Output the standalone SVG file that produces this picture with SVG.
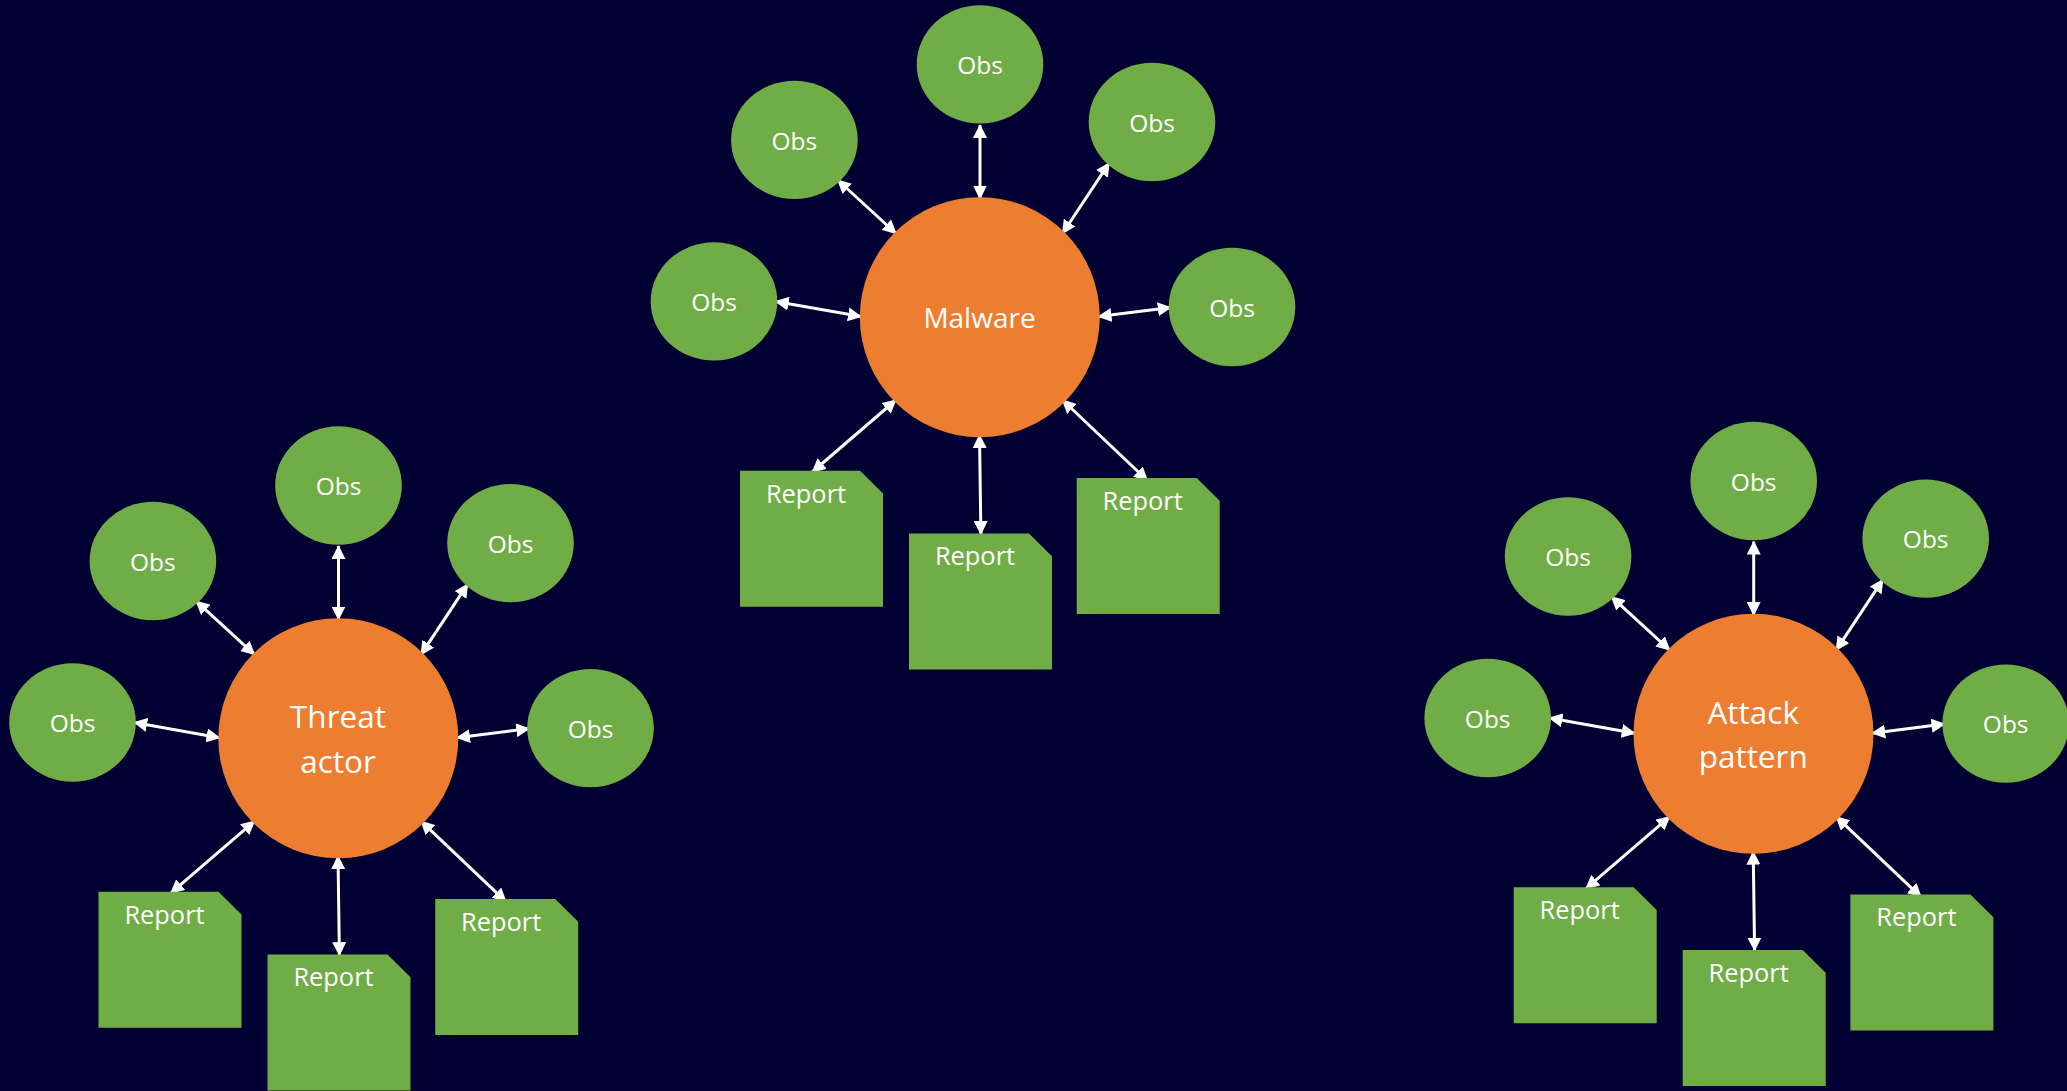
<svg xmlns="http://www.w3.org/2000/svg" width="2067" height="1091" viewBox="0 0 2067 1091">
  <defs>
    <style>
      .bg { fill: #000032; }
      .hub { fill: #ED7D31; }
      .obs { fill: #70AD47; }
      .doc { fill: #70AD47; }
      .lbl { fill: #FFFFFF; font-family: "Open Sans", "Liberation Sans", sans-serif; text-anchor: middle; }
      .obs-t { font-size: 24.5px; }
      .doc-t { font-size: 25.4px; }
      .hub-t { font-size: 28px; }
      .hub-t2 { font-size: 31.5px; }
      .link { stroke: #FFFFFF; stroke-width: 3; fill: none; marker-start: url(#tip); marker-end: url(#tip); }
    </style>
    <marker id="tip" viewBox="0 0 14 14" refX="13" refY="7" markerWidth="14" markerHeight="14" markerUnits="userSpaceOnUse" orient="auto-start-reverse">
      <path d="M0,0 L14,7 L0,14 z" fill="#FFFFFF"/>
    </marker>
  </defs>

  <rect class="bg" x="0" y="0" width="2067" height="1091"/>

  <!-- connectors: one star of eight double-headed links per hub -->
  <g id="connectors">
    <g id="links-malware">
      <line class="link" x1="980" y1="125" x2="980" y2="198.5"/>
      <line class="link" x1="837.7" y1="180" x2="896" y2="233.5"/>
      <line class="link" x1="1109.2" y1="163" x2="1062.5" y2="233.5"/>
      <line class="link" x1="775.7" y1="301.4" x2="861" y2="316.6"/>
      <line class="link" x1="1098.5" y1="316.6" x2="1170.8" y2="307.5"/>
      <line class="link" x1="896" y1="400" x2="812.3" y2="472"/>
      <line class="link" x1="979.5" y1="435" x2="980.9" y2="534"/>
      <line class="link" x1="1062.5" y1="400" x2="1147.4" y2="480.5"/>
    </g>
    <g id="links-threat" transform="translate(-641.5,421.1)">
      <line class="link" x1="980" y1="125" x2="980" y2="198.5"/>
      <line class="link" x1="837.7" y1="180" x2="896" y2="233.5"/>
      <line class="link" x1="1109.2" y1="163" x2="1062.5" y2="233.5"/>
      <line class="link" x1="775.7" y1="301.4" x2="861" y2="316.6"/>
      <line class="link" x1="1098.5" y1="316.6" x2="1170.8" y2="307.5"/>
      <line class="link" x1="896" y1="400" x2="812.3" y2="472"/>
      <line class="link" x1="979.5" y1="435" x2="980.9" y2="534"/>
      <line class="link" x1="1062.5" y1="400" x2="1147.4" y2="480.5"/>
    </g>
    <g id="links-attack" transform="translate(773.7,416.6)">
      <line class="link" x1="980" y1="125" x2="980" y2="198.5"/>
      <line class="link" x1="837.7" y1="180" x2="896" y2="233.5"/>
      <line class="link" x1="1109.2" y1="163" x2="1062.5" y2="233.5"/>
      <line class="link" x1="775.7" y1="301.4" x2="861" y2="316.6"/>
      <line class="link" x1="1098.5" y1="316.6" x2="1170.8" y2="307.5"/>
      <line class="link" x1="896" y1="400" x2="812.3" y2="472"/>
      <line class="link" x1="979.5" y1="435" x2="980.9" y2="534"/>
      <line class="link" x1="1062.5" y1="400" x2="1147.4" y2="480.5"/>
    </g>
  </g>

  <!-- Malware hub -->
  <g id="cluster-malware">
    <g id="malware">
      <circle class="hub" cx="979.8" cy="317.2" r="120"/>
      <text class="lbl hub-t" x="979.5" y="327.5">Malware</text>
    </g>
    <g id="malware-obs-top"><ellipse class="obs" cx="980" cy="64.4" rx="63.3" ry="59.2"/><text class="lbl obs-t" x="980" y="74">Obs</text></g>
    <g id="malware-obs-ul"><ellipse class="obs" cx="794.4" cy="139.9" rx="63.3" ry="59.2"/><text class="lbl obs-t" x="794.4" y="149.5">Obs</text></g>
    <g id="malware-obs-ur"><ellipse class="obs" cx="1152" cy="122" rx="63.3" ry="59.2"/><text class="lbl obs-t" x="1152" y="131.5">Obs</text></g>
    <g id="malware-obs-l"><ellipse class="obs" cx="714" cy="301.4" rx="63.3" ry="59.2"/><text class="lbl obs-t" x="714" y="311">Obs</text></g>
    <g id="malware-obs-r"><ellipse class="obs" cx="1232" cy="307" rx="63.3" ry="59.2"/><text class="lbl obs-t" x="1232" y="316.5">Obs</text></g>
    <g id="malware-report-l"><polygon class="doc" points="740,470.7 860,470.7 883,493.5 883,606.7 740,606.7"/><text class="lbl doc-t" x="806" y="502.7">Report</text></g>
    <g id="malware-report-m"><polygon class="doc" points="909,533.4 1029,533.4 1052,556.2 1052,669.4 909,669.4"/><text class="lbl doc-t" x="975" y="565.4">Report</text></g>
    <g id="malware-report-r"><polygon class="doc" points="1076.7,477.9 1196.7,477.9 1219.7,500.7 1219.7,613.9 1076.7,613.9"/><text class="lbl doc-t" x="1142.7" y="509.9">Report</text></g>
  </g>

  <!-- Threat actor hub -->
  <g id="cluster-threat" transform="translate(-641.5,421.1)">
    <g id="threat-actor">
      <circle class="hub" cx="979.8" cy="317.2" r="120"/>
      <text class="lbl hub-t2" x="979.5" y="307.2">Threat</text>
      <text class="lbl hub-t2" x="979.5" y="351.6">actor</text>
    </g>
    <g id="threat-obs-top"><ellipse class="obs" cx="980" cy="64.4" rx="63.3" ry="59.2"/><text class="lbl obs-t" x="980" y="74">Obs</text></g>
    <g id="threat-obs-ul"><ellipse class="obs" cx="794.4" cy="139.9" rx="63.3" ry="59.2"/><text class="lbl obs-t" x="794.4" y="149.5">Obs</text></g>
    <g id="threat-obs-ur"><ellipse class="obs" cx="1152" cy="122" rx="63.3" ry="59.2"/><text class="lbl obs-t" x="1152" y="131.5">Obs</text></g>
    <g id="threat-obs-l"><ellipse class="obs" cx="714" cy="301.4" rx="63.3" ry="59.2"/><text class="lbl obs-t" x="714" y="311">Obs</text></g>
    <g id="threat-obs-r"><ellipse class="obs" cx="1232" cy="307" rx="63.3" ry="59.2"/><text class="lbl obs-t" x="1232" y="316.5">Obs</text></g>
    <g id="threat-report-l"><polygon class="doc" points="740,470.7 860,470.7 883,493.5 883,606.7 740,606.7"/><text class="lbl doc-t" x="806" y="502.7">Report</text></g>
    <g id="threat-report-m"><polygon class="doc" points="909,533.4 1029,533.4 1052,556.2 1052,669.4 909,669.4"/><text class="lbl doc-t" x="975" y="565.4">Report</text></g>
    <g id="threat-report-r"><polygon class="doc" points="1076.7,477.9 1196.7,477.9 1219.7,500.7 1219.7,613.9 1076.7,613.9"/><text class="lbl doc-t" x="1142.7" y="509.9">Report</text></g>
  </g>

  <!-- Attack pattern hub -->
  <g id="cluster-attack" transform="translate(773.7,416.6)">
    <g id="attack-pattern">
      <circle class="hub" cx="979.8" cy="317.2" r="120"/>
      <text class="lbl hub-t2" x="979.5" y="307.4">Attack</text>
      <text class="lbl hub-t2" x="979.5" y="351.7">pattern</text>
    </g>
    <g id="attack-obs-top"><ellipse class="obs" cx="980" cy="64.4" rx="63.3" ry="59.2"/><text class="lbl obs-t" x="980" y="74">Obs</text></g>
    <g id="attack-obs-ul"><ellipse class="obs" cx="794.4" cy="139.9" rx="63.3" ry="59.2"/><text class="lbl obs-t" x="794.4" y="149.5">Obs</text></g>
    <g id="attack-obs-ur"><ellipse class="obs" cx="1152" cy="122" rx="63.3" ry="59.2"/><text class="lbl obs-t" x="1152" y="131.5">Obs</text></g>
    <g id="attack-obs-l"><ellipse class="obs" cx="714" cy="301.4" rx="63.3" ry="59.2"/><text class="lbl obs-t" x="714" y="311">Obs</text></g>
    <g id="attack-obs-r"><ellipse class="obs" cx="1232" cy="307" rx="63.3" ry="59.2"/><text class="lbl obs-t" x="1232" y="316.5">Obs</text></g>
    <g id="attack-report-l"><polygon class="doc" points="740,470.7 860,470.7 883,493.5 883,606.7 740,606.7"/><text class="lbl doc-t" x="806" y="502.7">Report</text></g>
    <g id="attack-report-m"><polygon class="doc" points="909,533.4 1029,533.4 1052,556.2 1052,669.4 909,669.4"/><text class="lbl doc-t" x="975" y="565.4">Report</text></g>
    <g id="attack-report-r"><polygon class="doc" points="1076.7,477.9 1196.7,477.9 1219.7,500.7 1219.7,613.9 1076.7,613.9"/><text class="lbl doc-t" x="1142.7" y="509.9">Report</text></g>
  </g>
</svg>
